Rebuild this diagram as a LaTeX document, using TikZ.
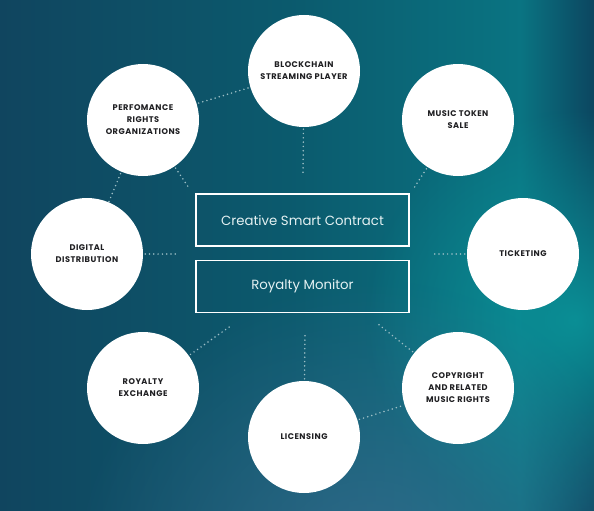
\documentclass[tikz,border=0pt]{standalone}
\usepackage{fontspec}
\setmainfont{Poppins}
\usetikzlibrary{fadings}
\definecolor{bgA}{HTML}{10455F}
\definecolor{bgB}{HTML}{0B5B6E}
\definecolor{bgC}{HTML}{0A7482}
\definecolor{bgD}{HTML}{0C4660}
\definecolor{glowT}{HTML}{0A959A}
\definecolor{glowB}{HTML}{3F6C92}
\definecolor{dotc}{HTML}{9DBFC6}
\definecolor{boxtxt}{HTML}{E4F1F2}
\definecolor{lbl}{HTML}{1F1F22}
\tikzfading[name=glowfade, inner color=transparent!0, outer color=transparent!100]
\newfontfamily\lblfont[LetterSpace=6]{Poppins}
\tikzset{
  bubble/.style={circle, fill=white, minimum size=112pt, inner sep=0pt, align=center,
    text=lbl, font=\lblfont\fontsize{8.2}{12}\selectfont\bfseries},
  panel/.style={draw=white, line width=1.1pt, minimum width=213pt, minimum height=52pt,
    inner sep=0pt, text=boxtxt, font=\fontsize{13.3}{15}\selectfont},
  dots/.style={draw=dotc, line width=1.7pt, dash pattern=on 0pt off 4.3pt, line cap=round,
    shorten <=2pt}
}
\begin{document}
\begin{tikzpicture}[x=1pt,y=-1pt]
\useasboundingbox (0,0) rectangle (594,511);
% background
\shade[left color=bgA, right color=bgB] (0,0) rectangle (302,511);
\shade[left color=bgB, right color=bgC] (300,0) rectangle (522,511);
\shade[left color=bgC, right color=bgD] (520,0) rectangle (594,511);
\begin{scope}
\clip (0,0) rectangle (594,511);
\fill[glowT, path fading=glowfade, opacity=0.9] (575,320) circle (210);
\fill[glowB, path fading=glowfade, opacity=0.75] (370,580) circle (300);
\end{scope}
% central panels
\node[panel] (csc) at (302.5,220) {Creative Smart Contract};
\node[panel] (rm) at (302.5,286.5) {Royalty Monitor};
% bubbles
\node[bubble] (block) at (304,71) {BLOCKCHAIN\\STREAMING PLAYER};
\node[bubble] (perf) at (143,120) {PERFOMANCE\\RIGHTS\\ORGANIZATIONS};
\node[bubble] (music) at (458,120) {MUSIC TOKEN\\SALE};
\node[bubble] (dig) at (87,254) {DIGITAL\\DISTRIBUTION};
\node[bubble] (tick) at (523,254) {TICKETING};
\node[bubble] (rex) at (143,388) {ROYALTY\\EXCHANGE};
\node[bubble] (lic) at (304,437) {LICENSING};
\node[bubble] (copy) at (458,388) {COPYRIGHT\\AND RELATED\\MUSIC RIGHTS};
% free ends
\coordinate (eblock) at (303,173);
\coordinate (eperf) at (189,188);
\coordinate (emusic) at (414,188);
\coordinate (edig) at (176,254);
\coordinate (etick) at (432,254);
\coordinate (erex) at (232,325);
\coordinate (elic) at (305,332);
\coordinate (ecopy) at (378,324);
% connectors
\draw[dots] (perf) -- (block);
\draw[dots] (perf) -- (dig);
\draw[dots] (lic) -- (copy);
\draw[dots] (block) -- (eblock);
\draw[dots] (perf) -- (eperf);
\draw[dots] (music) -- (emusic);
\draw[dots] (dig) -- (edig);
\draw[dots] (tick) -- (etick);
\draw[dots] (rex) -- (erex);
\draw[dots] (lic) -- (elic);
\draw[dots] (copy) -- (ecopy);
\end{tikzpicture}
\end{document}
